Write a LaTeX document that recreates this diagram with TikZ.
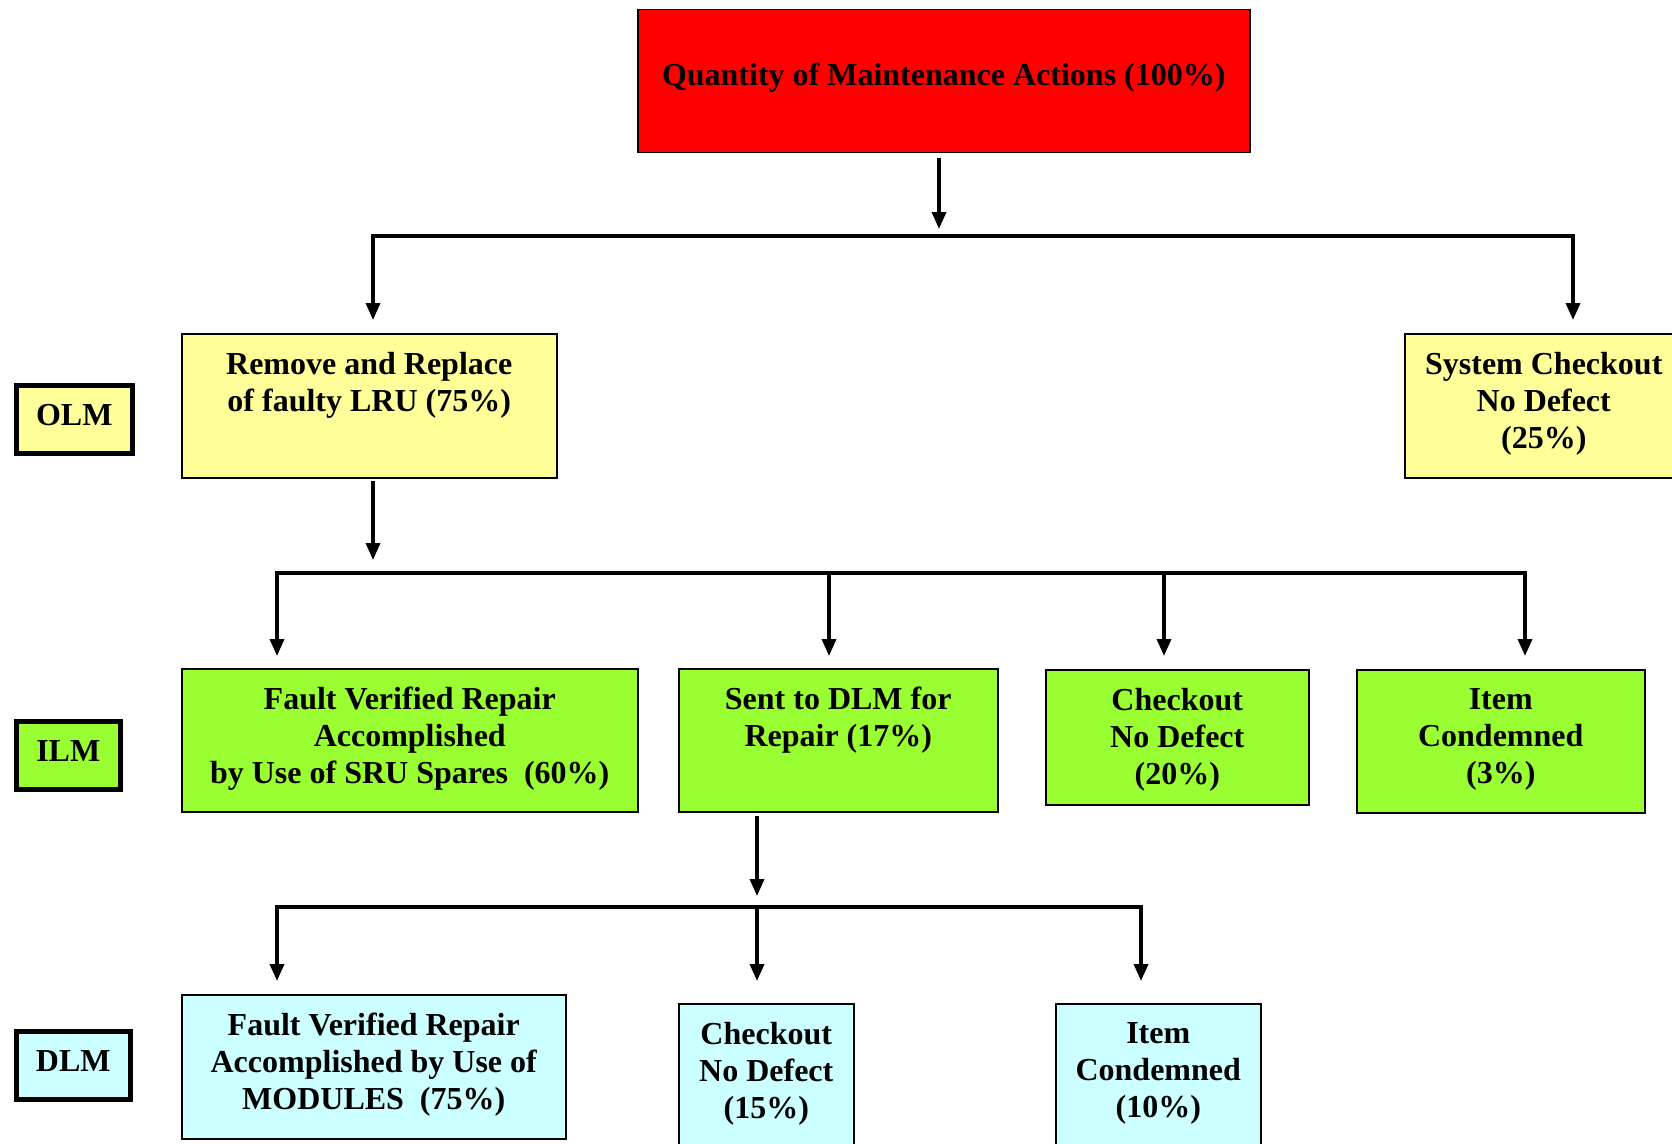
\documentclass[tikz,border=0pt]{standalone}
\usepackage{fontspec}
\setmainfont{Liberation Serif}
\usetikzlibrary{arrows.meta}
\definecolor{redbox}{HTML}{FF0000}
\definecolor{yelbox}{HTML}{FFFF99}
\definecolor{grnbox}{HTML}{99FF33}
\definecolor{cyabox}{HTML}{CCFFFF}
\begin{document}
\begin{tikzpicture}[x=1pt,y=-1pt,
  box/.style={draw=black, line width=1.5pt, inner sep=0pt, anchor=north west},
  lvl/.style={draw=black, line width=4.5pt, inner sep=0pt, anchor=north west},
  lvltxt/.style={font=\bfseries\fontsize{32}{37}\selectfont, inner sep=0pt},
  txt/.style={font=\bfseries\fontsize{32}{37}\selectfont, align=center, inner sep=0pt, anchor=north},
  bar/.style={line width=4pt, line cap=rect},
  arr/.style={line width=3.5pt, -{Triangle[width=14pt,length=17pt]}}]
\clip (0,0) rectangle (1672,1143);
\fill[white] (0,0) rectangle (1672,1143);

% boxes
\node[box, fill=redbox, minimum width=612pt, minimum height=143pt] (top) at (637,8.5) {};
\node[box, fill=yelbox, minimum width=375pt, minimum height=144pt] (rr) at (181,333) {};
\node[box, fill=yelbox, minimum width=278pt, minimum height=144pt] (sc) at (1404,333) {};
\node[box, fill=grnbox, minimum width=456pt, minimum height=143pt] (fv) at (181,668) {};
\node[box, fill=grnbox, minimum width=319pt, minimum height=143pt] (sd) at (678,668) {};
\node[box, fill=grnbox, minimum width=263pt, minimum height=135pt] (cn) at (1045,669) {};
\node[box, fill=grnbox, minimum width=288pt, minimum height=143pt] (ic) at (1356,669) {};
\node[box, fill=cyabox, minimum width=384pt, minimum height=144pt] (fm) at (181,994) {};
\node[box, fill=cyabox, minimum width=175pt, minimum height=170pt] (cc) at (678,1003) {};
\node[box, fill=cyabox, minimum width=205pt, minimum height=170pt] (ci) at (1055,1003) {};

% level boxes
\node[lvl, fill=yelbox, minimum width=116pt, minimum height=68pt] (olm) at (14,383) {};
\node[lvl, fill=grnbox, minimum width=104pt, minimum height=68pt] (ilm) at (14,719) {};
\node[lvl, fill=cyabox, minimum width=114pt, minimum height=68pt] (dlm) at (14,1029) {};
\node[lvltxt] (olmt) at ([yshift=4pt]olm.center) {OLM};
\node[lvltxt] (ilmt) at ([yshift=4pt]ilm.center) {ILM};
\node[lvltxt] (dlmt) at ([yshift=4pt]dlm.center) {DLM};

% texts
\node[txt] (topt) at ([yshift=-54pt]top.north) {Quantity of Maintenance Actions (100\%)};
\node[txt] (rrt) at ([yshift=-19pt]rr.north) {Remove and Replace\\of faulty LRU (75\%)};
\node[txt] (sct) at ([yshift=-19pt]sc.north) {System Checkout\\No Defect\\(25\%)};
\node[txt] (fvt) at ([yshift=-19pt]fv.north) {Fault Verified Repair\\Accomplished\\by Use of SRU Spares~~(60\%)};
\node[txt] (sdt) at ([yshift=-19pt]sd.north) {Sent to DLM for\\Repair (17\%)};
\node[txt] (cnt) at ([yshift=-19pt]cn.north) {Checkout\\No Defect\\(20\%)};
\node[txt] (ict) at ([yshift=-19pt]ic.north) {Item\\Condemned\\(3\%)};
\node[txt] (fmt) at ([yshift=-19pt]fm.north) {Fault Verified Repair\\Accomplished by Use of\\MODULES~~(75\%)};
\node[txt] (cct) at ([yshift=-19pt]cc.north) {Checkout\\No Defect\\(15\%)};
\node[txt] (cit) at ([yshift=-19pt]ci.north) {Item\\Condemned\\(10\%)};

% junction coordinates
\coordinate (j0) at (939,236);
\coordinate (b1l) at (373,236);
\coordinate (b1r) at (1573,236);
\coordinate (j1) at (373,573);
\coordinate (b2a) at (277,573);
\coordinate (b2b) at (829,573);
\coordinate (b2c) at (1164,573);
\coordinate (b2d) at (1525,573);
\coordinate (j2) at (757,907);
\coordinate (b3a) at (277,907);
\coordinate (b3b) at (757,907);
\coordinate (b3c) at (1141,907);

% level 1
\draw[arr, shorten <=5pt, shorten >=7pt] (top.south -| j0) -- (j0);
\draw[bar] (b1l) -- (b1r);
\draw[arr, shorten >=13pt] (b1l) -- (b1l |- rr.north);
\draw[arr, shorten >=13pt] (b1r) -- (b1r |- sc.north);

% level 2
\draw[arr, shorten <=2pt, shorten >=13pt] (rr.south -| j1) -- (j1);
\draw[bar] (b2a) -- (b2d);
\draw[arr, shorten >=12pt] (b2a) -- (b2a |- fv.north);
\draw[arr, shorten >=12pt] (b2b) -- (b2b |- sd.north);
\draw[arr, shorten >=13pt] (b2c) -- (b2c |- cn.north);
\draw[arr, shorten >=13pt] (b2d) -- (b2d |- ic.north);

% level 3
\draw[arr, shorten <=3pt, shorten >=11pt] (sd.south -| j2) -- (j2);
\draw[bar] (b3a) -- (b3c);
\draw[arr, shorten >=13pt] (b3a) -- (b3a |- fm.north);
\draw[arr, shorten >=22pt] (b3b) -- (b3b |- cc.north);
\draw[arr, shorten >=22pt] (b3c) -- (b3c |- ci.north);
\end{tikzpicture}
\end{document}
